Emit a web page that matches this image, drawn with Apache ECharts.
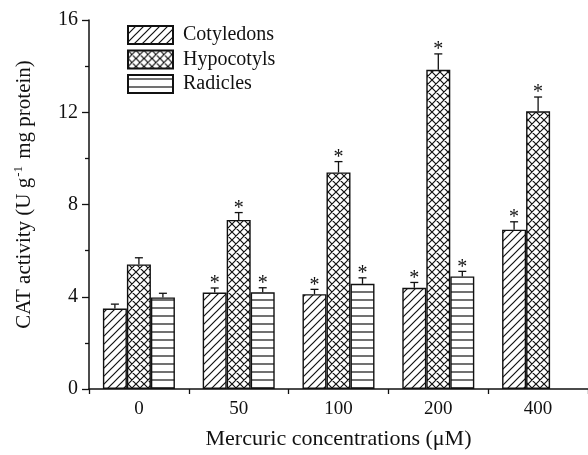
<!DOCTYPE html>
<html>
<head>
<meta charset="utf-8">
<script src="https://cdn.jsdelivr.net/npm/echarts@6/dist/echarts.min.js"></script>
<style>
  html, body { margin: 0; padding: 0; background: #fff; }
  #chart { width: 588px; height: 455px; }
</style>
</head>
<body>
<div id="chart"></div>
<script>
var categories = ['0', '50', '100', '200', '400'];
var cotyledons = [3.49, 4.18, 4.11, 4.39, 6.91];
var cotyledonsErr = [0.19, 0.20, 0.21, 0.23, 0.34];
var cotyledonsSig = [0, 1, 1, 1, 1];
var hypocotyls = [5.40, 7.33, 9.39, 13.84, 12.04];
var hypocotylsErr = [0.29, 0.32, 0.47, 0.69, 0.62];
var hypocotylsSig = [0, 1, 1, 1, 1];
var radicles = [3.97, 4.19, 4.56, 4.88, null];
var radiclesErr = [0.18, 0.20, 0.26, 0.22, null];
var radiclesSig = [0, 1, 1, 1, 0];
var yTicks = [0, 4, 8, 12, 16];

var FONT = '"Liberation Serif", "Times New Roman", serif';
var BAR_W = 24;

function makePattern(kind) {
  var c = document.createElement('canvas');
  c.width = 8; c.height = 8;
  var g = c.getContext('2d');
  g.fillStyle = '#fff';
  g.fillRect(0, 0, 8, 8);
  g.strokeStyle = '#111';
  g.lineWidth = 1.2;
  g.beginPath();
  if (kind === 'diag' || kind === 'cross') {
    g.moveTo(-1, 9); g.lineTo(9, -1);
    g.moveTo(-1, 1); g.lineTo(1, -1);
    g.moveTo(7, 9); g.lineTo(9, 7);
  }
  if (kind === 'cross') {
    g.moveTo(-1, -1); g.lineTo(9, 9);
    g.moveTo(7, -1); g.lineTo(9, 1);
    g.moveTo(-1, 7); g.lineTo(1, 9);
  }
  if (kind === 'horiz') {
    g.moveTo(0, 4); g.lineTo(8, 4);
  }
  g.stroke();
  return { image: c, repeat: 'repeat' };
}

function errData(vals, errs, sig) {
  return vals.map(function (v, i) {
    return v == null ? [i, null, null, 0] : [i, v, errs[i], sig[i]];
  });
}

function errSeries(vals, errs, sig, offset) {
  return {
    type: 'custom',
    z: 5,
    silent: true,
    encode: { x: 0, y: 1 },
    data: errData(vals, errs, sig),
    renderItem: function (params, api) {
      if (api.value(1) == null || isNaN(api.value(1))) return null;
      var idx = api.value(0);
      var base = api.coord([idx, api.value(1)]);
      var top = api.coord([idx, api.value(1) + api.value(2)]);
      var x = base[0] + offset;
      var children = [
        { type: 'line', shape: { x1: x, y1: base[1], x2: x, y2: top[1] },
          style: { stroke: '#111', lineWidth: 1.3 } },
        { type: 'line', shape: { x1: x - 4, y1: top[1], x2: x + 4, y2: top[1] },
          style: { stroke: '#111', lineWidth: 1.3 } }
      ];
      if (api.value(3)) {
        children.push({
          type: 'text',
          style: { text: '*', x: x, y: top[1] + 6, align: 'center', verticalAlign: 'bottom',
                   font: '20px ' + FONT, fill: '#111' }
        });
      }
      return { type: 'group', children: children };
    }
  };
}

var barStyle = function (kind) {
  return { color: makePattern(kind), borderColor: '#111', borderWidth: 1.4 };
};

var chart = echarts.init(document.getElementById('chart'));
var option = {
  animation: false,
  backgroundColor: '#fff',
  grid: { left: 89, top: 20, width: 507, bottom: 61, containLabel: false },
  legend: {
    orient: 'vertical',
    left: 127, top: 25,
    padding: 0,
    itemWidth: 45, itemHeight: 18, itemGap: 4.5,
    icon: 'rect',
    textStyle: { fontFamily: FONT, fontSize: 20, color: '#111', padding: [0, 0, 0, 5] },
    data: ['Cotyledons', 'Hypocotyls', 'Radicles']
  },
  xAxis: [{
    type: 'category',
    data: categories,
    name: 'Mercuric concentrations (\u03bcM)',
    nameLocation: 'middle',
    nameGap: 39,
    nameTextStyle: { fontFamily: FONT, fontSize: 22, color: '#111' },
    axisLine: { lineStyle: { color: '#111', width: 1.5 } },
    axisTick: { alignWithLabel: true, length: 6, lineStyle: { color: '#111', width: 1.3 } },
    axisLabel: { fontFamily: FONT, fontSize: 19, color: '#111', margin: 11 }
  }, {
    type: 'category',
    data: categories,
    position: 'bottom',
    axisLine: { show: false },
    axisTick: { show: true, length: 5, lineStyle: { color: '#111', width: 1.3 } },
    axisLabel: { show: false }
  }],
  yAxis: {
    type: 'value',
    min: yTicks[0], max: yTicks[yTicks.length - 1], interval: 4,
    name: '{a|CAT activity (U g}{s|-1}{a| mg protein)}',
    nameLocation: 'middle',
    nameGap: 52,
    nameTextStyle: {
      fontFamily: FONT, fontSize: 21, color: '#111',
      padding: [0, 0, 0, 20],
      rich: {
        a: { fontFamily: FONT, fontSize: 21, color: '#111' },
        s: { fontFamily: FONT, fontSize: 13, color: '#111', padding: [0, 2, 12, 1] }
      }
    },
    axisLine: { show: true, lineStyle: { color: '#111', width: 1.5 } },
    axisTick: { show: true, length: 7, lineStyle: { color: '#111', width: 1.3 } },
    minorTick: { show: true, splitNumber: 2, length: 4, lineStyle: { color: '#111', width: 1.3 } },
    splitLine: { show: false },
    axisLabel: { fontFamily: FONT, fontSize: 20, color: '#111', margin: 11 }
  },
  series: [
    { name: 'Cotyledons', type: 'bar', barWidth: BAR_W, barGap: '0%', data: cotyledons, itemStyle: barStyle('diag') },
    { name: 'Hypocotyls', type: 'bar', barWidth: BAR_W, barGap: '0%', data: hypocotyls, itemStyle: barStyle('cross') },
    { name: 'Radicles', type: 'bar', barWidth: BAR_W, barGap: '0%', data: radicles, itemStyle: barStyle('horiz') },
    errSeries(cotyledons, cotyledonsErr, cotyledonsSig, -BAR_W),
    errSeries(hypocotyls, hypocotylsErr, hypocotylsSig, 0),
    errSeries(radicles, radiclesErr, radiclesSig, BAR_W)
  ]
};
chart.setOption(option);
</script>
</body>
</html>
